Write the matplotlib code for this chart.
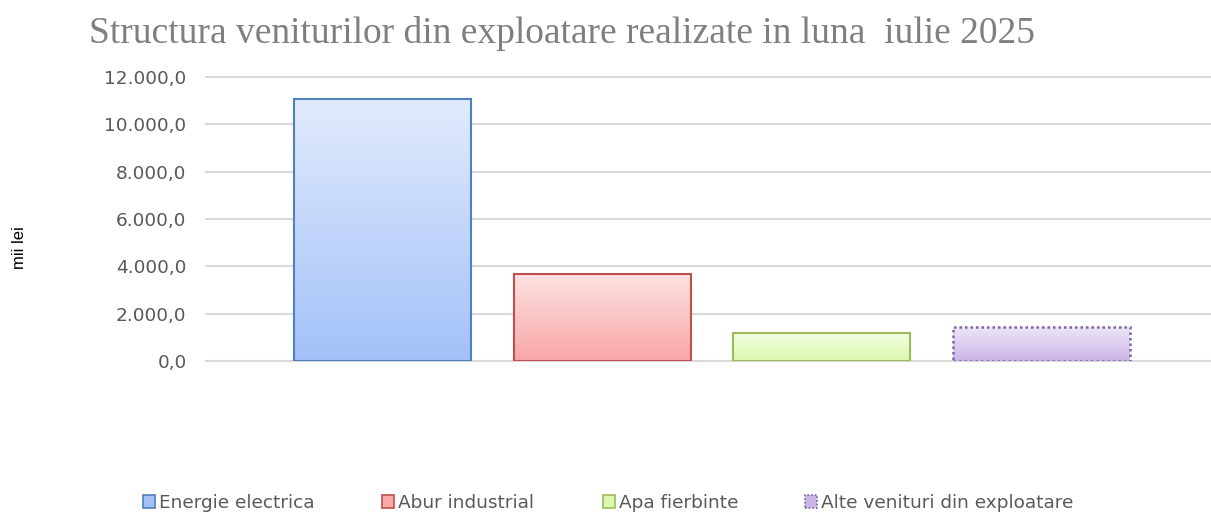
# Structura veniturilor din exploatare - iulie 2025
import numpy as np
import matplotlib.pyplot as plt
from matplotlib.patches import Patch
from matplotlib.ticker import FuncFormatter

# date (mii lei)
categorii = ['Energie electrica', 'Abur industrial', 'Apa fierbinte', 'Alte venituri din exploatare']
valori = [11070.0, 3675.0, 1185.0, 1435.0]

# culori: sus, jos, contur
culori_sus = ['#e1ebfd', '#fde1e1', '#f4fde2', '#ede5f7']
culori_jos = ['#a3c1f8', '#f9a7a7', '#dbf8ae', '#cab6e6']
culori_contur = ['#4f81bd', '#c0504d', '#9bbb59', '#8064a2']
stil_contur = ['solid', 'solid', 'solid', (0, (1, 1.2))]

def fmt_ro(v, pos=None):
    s = '{:,.1f}'.format(v)
    return s.replace(',', 'X').replace('.', ',').replace('X', '.')

fig = plt.figure(figsize=(12.11, 5.16), dpi=100)
ax = fig.add_axes([206/1211, 1 - 361/516, 1004/1211, (361 - 77)/516])

x = np.arange(len(categorii))
latime = 0.805
bare = ax.bar(x, valori, width=latime, color='none', zorder=3)

# gradient vertical in fiecare bara
for i, b in enumerate(bare):
    c1 = np.array(plt.matplotlib.colors.to_rgb(culori_sus[i]))
    c2 = np.array(plt.matplotlib.colors.to_rgb(culori_jos[i]))
    t = np.linspace(0, 1, 256)[:, None]
    grad = (c1 * (1 - t) + c2 * t)[:, None, :]
    x0 = b.get_x()
    im = ax.imshow(grad, extent=[x0, x0 + b.get_width(), 0, b.get_height()],
                   aspect='auto', zorder=3, interpolation='bilinear')
    im.set_clip_path(b)
    b.set_edgecolor(culori_contur[i])
    b.set_linewidth(1.5 if i < 3 else 1.8)
    b.set_linestyle(stil_contur[i])
    b.set_zorder(4)

ax.set_xlim(-0.803, 3.767)
ax.set_ylim(0, 12000)
ax.set_yticks(np.arange(0, 12001, 2000))
ax.yaxis.set_major_formatter(FuncFormatter(fmt_ro))
ax.set_xticks([])
ax.grid(axis='y', color='#d9d9d9', linewidth=1.5, zorder=0)
for gl in ax.get_ygridlines():
    gl.set_clip_on(False)
for s in ax.spines.values():
    s.set_visible(False)
ax.tick_params(axis='y', length=0, pad=14, labelsize=13.3, labelcolor='#595959')

fig.text(19/1211, 1 - 248/516, 'mii lei', rotation=90, ha='center', va='center',
         fontsize=12, family='Liberation Sans', color='black')

fig.text(562/1211, 1 - 43/516, 'Structura veniturilor din exploatare realizate in luna  iulie 2025',
         ha='center', va='baseline', fontsize=27, family='Liberation Serif', color='#7f7f7f')

# legenda: cate un element, pozitionat ca in original
poz_legenda = [143, 382, 603, 805]
for i in range(len(categorii)):
    h = Patch(facecolor=culori_jos[i], edgecolor=culori_contur[i],
              linestyle=stil_contur[i], linewidth=1.2, label=categorii[i])
    fig.legend(handles=[h], loc='center left', bbox_to_anchor=(poz_legenda[i]/1211, 1 - 503/516),
               frameon=False, fontsize=13.3, labelcolor='#595959', handlelength=0.65,
               handleheight=0.65, handletextpad=0.22, borderpad=0, borderaxespad=0)

plt.savefig('out.png', dpi=100)
